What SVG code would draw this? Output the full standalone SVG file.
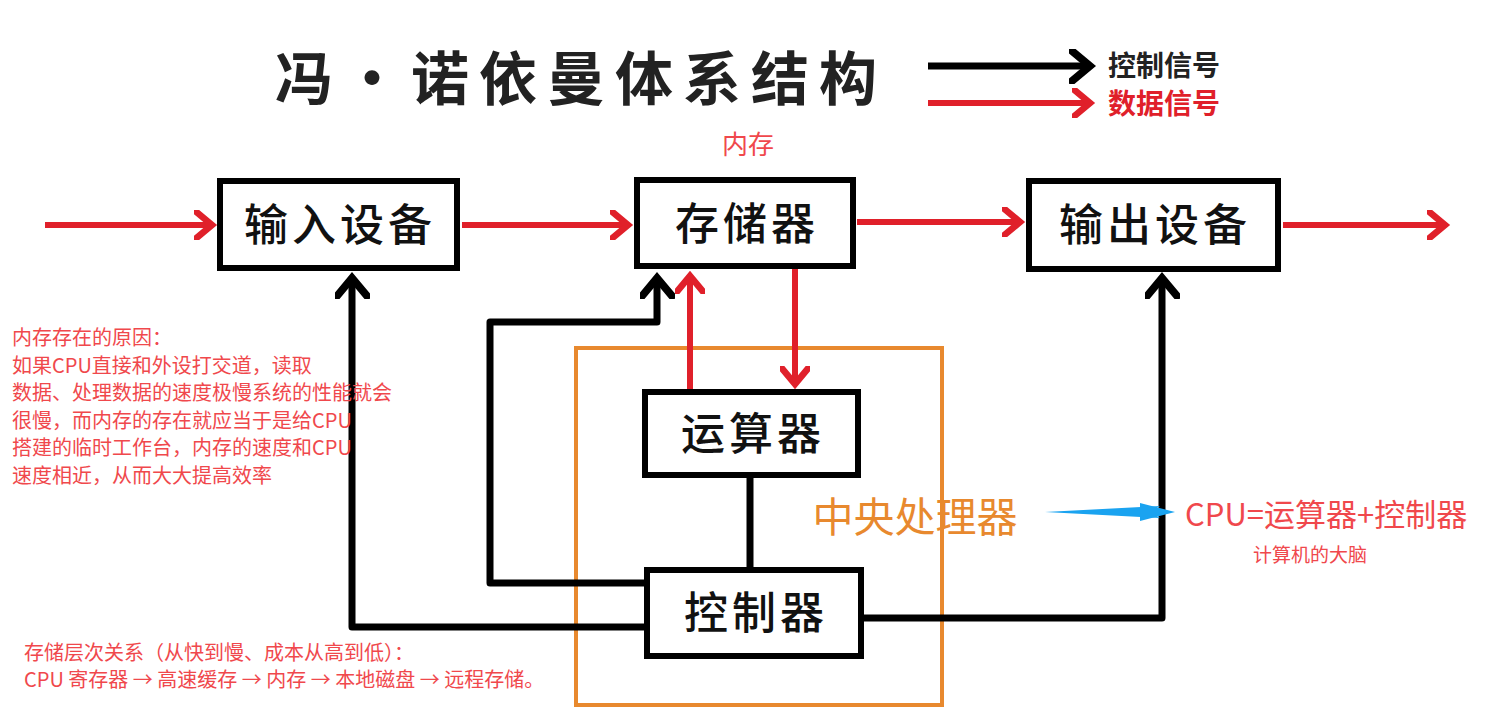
<svg xmlns="http://www.w3.org/2000/svg" width="1499" height="715" viewBox="0 0 1499 715">
<style>
.box{fill:#fff;stroke:#000;stroke-width:6}
.bt{font-family:"Noto Sans CJK SC","Liberation Sans",sans-serif;font-size:44px;font-weight:500;letter-spacing:4px;text-anchor:middle;fill:#111}
.k{fill:none;stroke:#000;stroke-width:7;stroke-linejoin:round}
.r{fill:none;stroke:#e0202a;stroke-width:6}
.note{font-family:"Noto Sans CJK SC","Liberation Sans",sans-serif;font-size:20px;fill:#f0484c}
</style>
<defs>
<marker id="ak" markerWidth="5" markerHeight="5" refX="3" refY="2.5" orient="auto" markerUnits="strokeWidth"><path d="M0,0 L3,2.5 L0,5" fill="none" stroke="#000" stroke-width="1.1"/></marker>
<marker id="ar" markerWidth="5" markerHeight="5" refX="3" refY="2.5" orient="auto" markerUnits="strokeWidth"><path d="M0,0 L3,2.5 L0,5" fill="none" stroke="#e0202a" stroke-width="1.1"/></marker>
</defs>
<rect width="1499" height="715" fill="#fff"/>
<text x="275" y="100" font-family="Noto Sans CJK SC,sans-serif" font-size="58" font-weight="bold" fill="#222" letter-spacing="10">冯·诺依曼体系结构</text>
<g id="legend">
<line x1="928" y1="66" x2="1090" y2="66" class="k" marker-end="url(#ak)"/>
<text x="1108" y="76" font-family="Noto Sans CJK SC,sans-serif" font-size="28" font-weight="bold" fill="#222">控制信号</text>
<line x1="928" y1="103" x2="1090" y2="103" class="r" stroke-width="7" marker-end="url(#ar)"/>
<text x="1108" y="114" font-family="Noto Sans CJK SC,sans-serif" font-size="28" font-weight="bold" fill="#e0202a">数据信号</text>
</g>
<text x="748" y="154" font-family="Noto Sans CJK SC,sans-serif" font-size="26" fill="#f0484c" text-anchor="middle">内存</text>
<rect id="cpu" x="576" y="348" width="366" height="357" fill="none" stroke="#e8892e" stroke-width="4"/>
<text x="915" y="532" font-family="Noto Sans CJK SC,sans-serif" font-size="41" fill="#e8892e" text-anchor="middle">中央处理器</text>
<g id="connectors">
<line x1="45" y1="225" x2="212" y2="225" class="r" marker-end="url(#ar)"/>
<line x1="462" y1="225" x2="628" y2="225" class="r" marker-end="url(#ar)"/>
<line x1="857" y1="222" x2="1020" y2="222" class="r" marker-end="url(#ar)"/>
<line x1="1283" y1="225" x2="1445" y2="225" class="r" marker-end="url(#ar)"/>
<line x1="690" y1="392" x2="690" y2="276" class="r" marker-end="url(#ar)"/>
<line x1="795" y1="268" x2="795" y2="384" class="r" marker-end="url(#ar)"/>
<path d="M647,627 H352 V278" class="k" marker-end="url(#ak)"/>
<path d="M647,583 H490 V322 H657 V278" class="k" marker-end="url(#ak)"/>
<line x1="750" y1="475" x2="750" y2="570" class="k"/>
<path d="M861,618 H1162 V278" class="k" marker-end="url(#ak)"/>
<path d="M1045,512 L1160,506 L1150,512 L1160,518 Z" fill="#1aa3f0"/>
<path d="M1140,503 L1175,512 L1140,521 Z" fill="#1aa3f0"/>
</g>
<g id="input"><rect class="box" x="220" y="181" width="237" height="87"/><text class="bt" x="340" y="241">输入设备</text></g>
<g id="memory"><rect class="box" x="637" y="180" width="216" height="86"/><text class="bt" x="747" y="240">存储器</text></g>
<g id="output"><rect class="box" x="1029" y="181" width="249" height="88"/><text class="bt" x="1155" y="241">输出设备</text></g>
<g id="alu"><rect class="box" x="645" y="392" width="213" height="83"/><text class="bt" x="753" y="450">运算器</text></g>
<g id="ctrl"><rect class="box" x="647" y="570" width="214" height="86"/><text class="bt" x="756" y="629">控制器</text></g>
<text x="1185" y="526" font-family="Noto Sans CJK SC,sans-serif" font-size="31" fill="#f0484c">CPU=运算器+控制器</text>
<text x="1253" y="562" font-family="Noto Sans CJK SC,sans-serif" font-size="19" fill="#f0484c">计算机的大脑</text>
<g class="note">
<text x="12" y="345">内存存在的原因：</text>
<text x="12" y="373">如果CPU直接和外设打交道，读取</text>
<text x="12" y="400">数据、处理数据的速度极慢系统的性能就会</text>
<text x="12" y="428">很慢，而内存的存在就应当于是给CPU</text>
<text x="12" y="455">搭建的临时工作台，内存的速度和CPU</text>
<text x="12" y="483">速度相近，从而大大提高效率</text>
<text x="24" y="660">存储层次关系（从快到慢、成本从高到低）：</text>
<text x="24" y="687">CPU 寄存器 → 高速缓存 → 内存 → 本地磁盘 → 远程存储。</text>
</g>
</svg>
